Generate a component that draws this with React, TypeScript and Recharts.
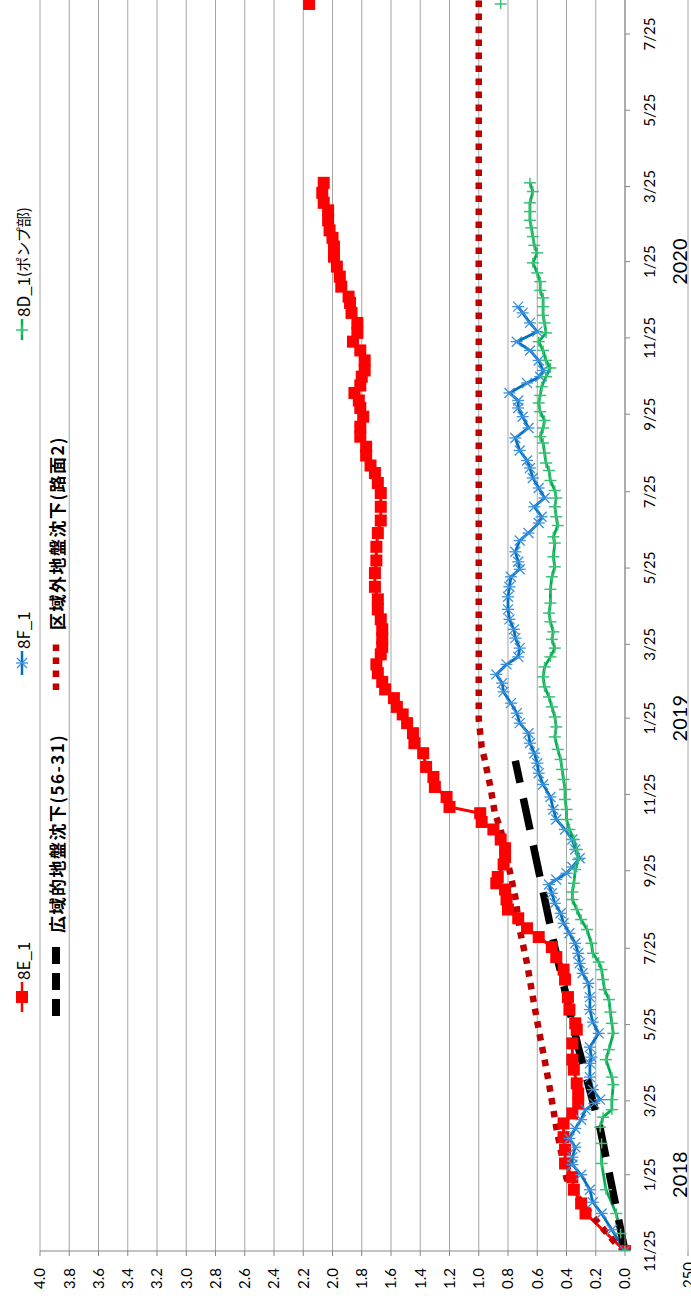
import React from 'react';
import { LineChart, Line, XAxis, YAxis, CartesianGrid } from 'recharts';

// x = 2017/11/25 からの経過日数, y = 沈下量
const START = Date.UTC(2017, 10, 25);

const TICK_DATES = [
  '2017-11-25', '2018-01-25', '2018-03-25', '2018-05-25', '2018-07-25', '2018-09-25',
  '2018-11-25', '2019-01-25', '2019-03-25', '2019-05-25', '2019-07-25', '2019-09-25',
  '2019-11-25', '2020-01-25', '2020-03-25', '2020-05-25', '2020-07-25',
];
const VALUE_TICKS = [0, 0.2, 0.4, 0.6, 0.8, 1.0, 1.2, 1.4, 1.6, 1.8, 2.0, 2.2, 2.4, 2.6, 2.8, 3.0, 3.2, 3.4, 3.6, 3.8, 4.0];

const E1_DAYS = [
  0, 30, 38, 49, 59, 70, 81, 91, 102, 110, 118, 126, 134, 145, 153, 166, 177, 182, 193, 203,
  217, 225, 235, 243, 251, 258, 266, 273, 281, 289, 294, 299, 309, 315, 322, 329, 337, 343, 350, 355,
  363, 371, 379, 387, 398, 406, 414, 422, 429, 435, 442, 449, 455, 462, 469, 477, 483, 490, 497, 505,
  513, 521, 531, 542, 552, 563, 574, 584, 595, 606, 614, 622, 628, 636, 643, 651, 659, 667, 674, 680,
  686, 692, 699, 704, 712, 720, 727, 734, 742, 750, 758, 763, 771, 779, 787, 795, 803, 810, 816, 824,
  832, 838, 846, 854, 920, 997,
];
const E1_VALUES = [
  0, 0.27, 0.30, 0.35, 0.36, 0.41, 0.41, 0.42, 0.42, 0.36, 0.32, 0.32, 0.33, 0.35, 0.36, 0.36, 0.33, 0.34, 0.38, 0.39,
  0.41, 0.42, 0.47, 0.50, 0.59, 0.67, 0.73, 0.80, 0.81, 0.82, 0.88, 0.87, 0.83, 0.82, 0.82, 0.85, 0.90, 0.98, 0.99, 1.20,
  1.22, 1.30, 1.31, 1.36, 1.38, 1.44, 1.45, 1.49, 1.52, 1.56, 1.58, 1.64, 1.66, 1.69, 1.70, 1.67, 1.66, 1.66, 1.66, 1.67,
  1.69, 1.69, 1.71, 1.71, 1.70, 1.70, 1.69, 1.67, 1.67, 1.67, 1.69, 1.71, 1.74, 1.77, 1.77, 1.81, 1.81, 1.79, 1.81, 1.82,
  1.85, 1.81, 1.80, 1.78, 1.78, 1.81, 1.86, 1.83, 1.83, 1.87, 1.88, 1.89, 1.94, 1.95, 1.97, 1.99, 1.99, 2.00, 2.02, 2.03,
  2.03, 2.06, 2.07, 2.06, null, 2.16,
];

const F1_DAYS = [
  0, 17, 30, 39, 49, 61, 69, 75, 83, 90, 98, 105, 113, 118, 121, 129, 139, 150, 155, 163,
  174, 183, 193, 203, 214, 222, 230, 238, 246, 254, 262, 270, 278, 286, 293, 297, 302, 307, 314, 321,
  329, 337, 345, 353, 363, 373, 382, 390, 398, 406, 414, 422, 430, 438, 447, 454, 461, 469, 475, 482,
  490, 497, 505, 513, 523, 531, 539, 545, 551, 559, 568, 574, 582, 587, 595, 602, 610, 618, 626, 632,
  640, 650, 658, 667, 674, 680, 686, 694, 699, 704, 712, 720, 727, 735, 742, 750, 755,
];
const F1_VALUES = [
  0, 0.09, 0.16, 0.22, 0.24, 0.30, 0.36, 0.36, 0.34, 0.38, 0.34, 0.30, 0.27, 0.21, 0.17, 0.22, 0.24, 0.24, 0.23, 0.24,
  0.18, 0.22, 0.24, 0.24, 0.25, 0.29, 0.31, 0.32, 0.34, 0.38, 0.42, 0.44, 0.48, 0.50, 0.52, 0.47, 0.40, 0.36, 0.31, 0.34,
  0.36, 0.41, 0.47, 0.49, 0.51, 0.56, 0.59, 0.60, 0.62, 0.65, 0.66, 0.72, 0.74, 0.78, 0.83, 0.84, 0.88, 0.81, 0.73, 0.72,
  0.75, 0.76, 0.79, 0.80, 0.80, 0.79, 0.78, 0.72, 0.73, 0.75, 0.72, 0.66, 0.59, 0.57, 0.62, 0.55, 0.59, 0.63, 0.65, 0.67,
  0.72, 0.75, 0.66, 0.70, 0.73, 0.73, 0.79, 0.67, 0.58, 0.56, 0.59, 0.65, 0.74, 0.60, 0.65, 0.70, 0.73,
];

const D1_DAYS = [
  0, 14, 30, 49, 70, 86, 99, 107, 113, 121, 133, 139, 153, 161, 174, 182, 191, 201, 209, 217,
  225, 231, 238, 246, 257, 265, 273, 281, 287, 294, 305, 313, 321, 329, 337, 345, 353, 361, 369, 377,
  385, 393, 401, 411, 419, 427, 435, 443, 451, 459, 467, 475, 482, 489, 495, 503, 510, 518, 529, 539,
  547, 555, 566, 571, 580, 587, 595, 602, 608, 616, 624, 630, 638, 646, 651, 658, 664, 671, 678, 684,
  691, 699, 706, 712, 720, 727, 734, 742, 748, 755, 762, 768, 775, 782, 790, 798, 804, 811, 818, 824,
  831, 838, 847, 854, 920, 997,
];
const D1_VALUES = [
  0, 0.03, 0.06, 0.13, 0.16, 0.16, 0.17, 0.15, 0.09, 0.09, 0.08, 0.09, 0.13, 0.11, 0.08, 0.09, 0.10, 0.11, 0.14, 0.15,
  0.16, 0.18, 0.22, 0.23, 0.26, 0.30, 0.33, 0.36, 0.36, 0.35, 0.34, 0.32, 0.33, 0.35, 0.38, 0.40, 0.40, 0.41, 0.41, 0.42,
  0.43, 0.44, 0.46, 0.48, 0.47, 0.48, 0.50, 0.52, 0.55, 0.56, 0.55, 0.51, 0.48, 0.50, 0.49, 0.51, 0.52, 0.51, 0.51, 0.50,
  0.48, 0.49, 0.48, 0.49, 0.46, 0.47, 0.48, 0.47, 0.48, 0.51, 0.52, 0.54, 0.55, 0.56, 0.58, 0.56, 0.55, 0.58, 0.59, 0.58,
  0.57, 0.54, 0.51, 0.54, 0.56, 0.59, 0.54, 0.55, 0.56, 0.56, 0.56, 0.58, 0.58, 0.60, 0.63, 0.60, 0.62, 0.63, 0.64, 0.65,
  0.65, 0.65, 0.63, 0.65, null, 0.85,
];

// 広域的地盤沈下(56-31)
const WIDE_DAYS = [0, 98, 163, 243, 337, 392];
const WIDE_VALUES = [0, 0.17, 0.32, 0.48, 0.65, 0.75];

// 区域外地盤沈下(路面2)
const OUT_DAYS = [0, 7, 22, 33, 49, 58, 81, 99, 113, 134, 153, 177, 203, 230, 257, 283, 310, 337, 350, 371, 393, 403, 414, 425, 1035];
const OUT_VALUES = [0, 0.07, 0.18, 0.26, 0.36, 0.40, 0.44, 0.47, 0.49, 0.52, 0.55, 0.59, 0.63, 0.67, 0.72, 0.75, 0.80, 0.85, 0.89, 0.92, 0.96, 0.98, 0.99, 1.0, 1.0];

const X_MAX = 1035;
const PX_PER_DAY = 1.2508;
const CHART_W = 1380;
const CHART_H = 691;
const Y_AXIS_W = 57;
const PLOT_W = X_MAX * PX_PER_DAY;

const DAY_MS = 86400000;
const toDay = (s: string) => {
  const [y, m, d] = s.split('-').map(Number);
  return Math.round((Date.UTC(y, m - 1, d) - START) / DAY_MS);
};
const TICK_DAYS = TICK_DATES.map(toDay);

const zip = (days: number[], values: (number | null)[]) => days.map((day, i) => ({ day, v: values[i] }));

const AXIS_FONT = 'Lato, "Noto Sans CJK JP", sans-serif';
const JP_FONT = '"Noto Sans CJK JP", sans-serif';

const SquareDot = (props: any) => {
  const { cx, cy, index } = props;
  if (cx == null || cy == null || props.value == null) return <g key={`e${index}`} />;
  return <rect key={`e${index}`} x={cx - 6} y={cy - 6} width={12} height={12} fill="#FF0000" />;
};

const StarDot = (props: any) => {
  const { cx, cy, index } = props;
  if (cx == null || cy == null) return <g key={`f${index}`} />;
  return (
    <g key={`f${index}`} stroke="#3a90dc" strokeWidth={1.3}>
      <line x1={cx - 5} y1={cy - 5} x2={cx + 5} y2={cy + 5} />
      <line x1={cx - 5} y1={cy + 5} x2={cx + 5} y2={cy - 5} />
      <line x1={cx} y1={cy - 6} x2={cx} y2={cy + 6} />
    </g>
  );
};

const PlusDot = (props: any) => {
  const { cx, cy, index } = props;
  if (cx == null || cy == null || props.value == null) return <g key={`d${index}`} />;
  return (
    <g key={`d${index}`} stroke="#3cc077" strokeWidth={1.5}>
      <line x1={cx - 5} y1={cy} x2={cx + 5} y2={cy} />
      <line x1={cx} y1={cy - 6} x2={cx} y2={cy + 6} />
    </g>
  );
};

const DateTick = (props: any) => {
  const { x, payload } = props;
  const d = new Date(START + payload.value * DAY_MS);
  const m = d.getUTCMonth() + 1;
  return (
    <g>
      <text x={x} y={655} textAnchor="middle" fontSize={15} fontFamily={AXIS_FONT} fill="#000">
        {`${m}/${d.getUTCDate()}`}
      </text>
      {m === 1 && (
        <text x={x} y={687} textAnchor="middle" fontSize={20} fontFamily={AXIS_FONT} fill="#000">
          {d.getUTCFullYear()}
        </text>
      )}
    </g>
  );
};

function Legend() {
  return (
    <svg width={CHART_W} height={CHART_H} style={{ position: 'absolute', left: 0, top: 0, pointerEvents: 'none' }}>
      <line x1={296} y1={22} x2={326} y2={22} stroke="#FF0000" strokeWidth={2.5} />
      <rect x={305} y={16} width={12} height={12} fill="#FF0000" />
      <text x={328} y={22} dominantBaseline="central" fontSize={17} fontFamily={JP_FONT}>8E_1</text>

      <line x1={633} y1={22} x2={657} y2={22} stroke="#0070C0" strokeWidth={2.5} />
      <StarDot cx={645} cy={22} index={0} />
      <text x={659} y={22} dominantBaseline="central" fontSize={17} fontFamily={JP_FONT}>8F_1</text>

      <line x1={968} y1={22} x2={989} y2={22} stroke="#00B050" strokeWidth={2.5} />
      <PlusDot cx={978} cy={22} index={0} value={1} />
      <text x={991} y={22} dominantBaseline="central" fontSize={17} fontFamily={JP_FONT}>
        8D_1<tspan fontSize={15}>(ポンプ部)</tspan>
      </text>

      <line x1={292} y1={56} x2={361} y2={56} stroke="#000" strokeWidth={8} strokeDasharray="17 9" />
      <text x={375} y={56} dominantBaseline="central" fontSize={17} fontWeight="bold" letterSpacing={1.5} fontFamily={JP_FONT}>
        広域的地盤沈下(56-31)
      </text>

      <line x1={618} y1={56} x2={666} y2={56} stroke="#C00000" strokeWidth={6.5} strokeDasharray="6.5 6.5" />
      <text x={678} y={56} dominantBaseline="central" fontSize={17} fontWeight="bold" letterSpacing={1.5} fontFamily={JP_FONT}>
        区域外地盤沈下(路面2)
      </text>

      {/* 下のグラフの上端 */}
      <line x1={Y_AXIS_W} y1={688} x2={CHART_W} y2={688} stroke="#a6a6a6" strokeWidth={1} />
      <line x1={Y_AXIS_W - 5} y1={688} x2={Y_AXIS_W} y2={688} stroke="#868686" strokeWidth={1} />
      <text x={46} y={688} textAnchor="end" dominantBaseline="central" fontSize={15} fontFamily={AXIS_FONT}>250</text>
    </svg>
  );
}

export default function App() {
  return (
    <div style={{ position: 'absolute', left: 0, top: 0, width: 691, height: 1308, overflow: 'hidden', background: '#fff' }}>
      <div
        style={{
          position: 'absolute',
          left: 0,
          top: 0,
          width: CHART_W,
          height: CHART_H,
          transformOrigin: '0 0',
          transform: 'translateY(1308px) rotate(-90deg)',
        }}
      >
        <LineChart
          width={CHART_W}
          height={CHART_H}
          margin={{ top: 40, right: CHART_W - Y_AXIS_W - PLOT_W, bottom: 0, left: 0 }}
        >
          <CartesianGrid vertical={false} stroke="#a6a6a6" />
          <XAxis
            dataKey="day"
            type="number"
            domain={[0, X_MAX]}
            ticks={TICK_DAYS}
            interval={0}
            allowDataOverflow
            height={66}
            tickSize={5}
            stroke="#868686"
            tick={<DateTick />}
          />
          <YAxis
            type="number"
            domain={[0, 4]}
            ticks={VALUE_TICKS}
            interval={0}
            width={Y_AXIS_W}
            tickSize={5}
            tickMargin={12}
            stroke="#868686"
            tick={{ fontSize: 15, fill: '#000', fontFamily: AXIS_FONT }}
            tickFormatter={(v: number) => v.toFixed(1)}
          />
          <Line data={zip(E1_DAYS, E1_VALUES)} dataKey="v" name="8E_1" stroke="#FF0000" strokeWidth={3}
            dot={SquareDot} isAnimationActive={false} connectNulls={false} />
          <Line data={zip(F1_DAYS, F1_VALUES)} dataKey="v" name="8F_1" stroke="#0070C0" strokeWidth={2.8}
            dot={StarDot} isAnimationActive={false} />
          <Line data={zip(D1_DAYS, D1_VALUES)} dataKey="v" name="8D_1(ポンプ部)" stroke="#00B050" strokeWidth={2.8}
            dot={PlusDot} isAnimationActive={false} connectNulls={false} />
          <Line data={zip(WIDE_DAYS, WIDE_VALUES)} dataKey="v" name="広域的地盤沈下(56-31)" stroke="#000"
            strokeWidth={7.5} strokeDasharray="32 16" dot={false} isAnimationActive={false} />
          <Line data={zip(OUT_DAYS, OUT_VALUES)} dataKey="v" name="区域外地盤沈下(路面2)" stroke="#C00000"
            strokeWidth={6.5} strokeDasharray="6.5 6.5" dot={false} isAnimationActive={false} />
        </LineChart>
        <Legend />
      </div>
    </div>
  );
}
